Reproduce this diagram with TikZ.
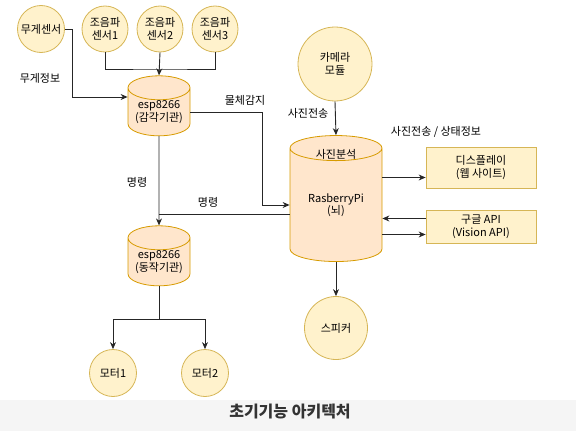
\documentclass[tikz,border=0pt]{standalone}
\usepackage{fontspec}
\setmainfont{Noto Sans CJK KR}
\usetikzlibrary{calc, positioning}
\usetikzlibrary{arrows.meta}
\usetikzlibrary{shapes.geometric}

\definecolor{sensfill}{HTML}{FFF2CC}
\definecolor{sensline}{HTML}{D6B656}
\definecolor{espfill}{HTML}{FFE6CC}
\definecolor{espline}{HTML}{D79B00}
\definecolor{barfill}{HTML}{F5F5F5}
\definecolor{titletext}{HTML}{333333}

\begin{document}
\begin{tikzpicture}[x=1pt,y=-1pt,
  font=\fontsize{11}{12.5}\selectfont,
  part/.style={circle, draw=sensline, fill=sensfill, line width=0.8pt,
    inner sep=0pt, align=center},
  board/.style={cylinder, shape border rotate=90, aspect=0.5,
    draw=espline, fill=espfill, line width=0.8pt, inner sep=0pt,
    minimum width=62pt, minimum height=60pt, align=center},
  outbox/.style={rectangle, draw=sensline, fill=sensfill, line width=0.8pt,
    minimum width=110pt, align=center},
  link/.style={draw=black!85, line width=0.9pt},
  arr/.style={link, -{Stealth[length=7pt, width=6pt]}}]
\def\picw{576}
\def\pich{431}

\useasboundingbox (0,0) rectangle (\picw,\pich);

\fill[barfill] (0,400) rectangle (\picw,\pich);
\node[font=\fontsize{16}{18}\selectfont\bfseries, text=titletext] (title) at (290,412) {초기기능 아키텍처};

\node[part, minimum size=47pt] (wsens) at (41,29) {무게센서};
\node[part, minimum size=46pt] (us1) at (105,29) {조음파\\센서1};
\node[part, minimum size=46pt] (us2) at (160,29) {조음파\\센서2};
\node[part, minimum size=46pt] (us3) at (215,29) {조음파\\센서3};
\node[part, minimum size=74pt] (cam) at (335,64) {카메라\\모듈};
\node[part, minimum size=63pt] (spk) at (336,328) {스피커};
\node[part, minimum size=47pt] (mot1) at (113,373) {모터1};
\node[part, minimum size=47pt] (mot2) at (205,373) {모터2};

\node[board] (espin) at (159,112) {esp8266\\(감각기관)};
\node[board] (espout) at (159,262) {esp8266\\(동작기관)};
\node[board, minimum width=92pt, minimum height=126pt, aspect=0.45] (rpi) at (336,205) {RasberryPi\\(뇌)};
\node (rpitop) at (336,154) {사진분석};

\node[outbox, minimum height=41pt] (disp) at (481,167.5) {디스플레이\\(웹 사이트)};
\node[outbox, minimum height=33pt] (api) at (481,226.5) {구글 API\\(Vision API)};

\coordinate (usjoin) at (160,69);
\draw[link] (us1.south) |- (usjoin) -| (us3.south);
\draw[arr] (us2.south) -- (espin.north);
\draw[arr] (wsens.east) -| ([xshift=-55pt,yshift=15pt]espin.west) -- ([yshift=15pt]espin.west);

\draw[arr] (espin.east) -| ([xshift=-27pt]rpi.west) -- (rpi.west);
\draw[arr] (cam.south) -- (rpi.north);
\draw[arr] (espin.south) -- (espout.north);
\draw[link] ([yshift=-9pt]rpi.west) -- ([yshift=-9pt]rpi.west -| espin.south);

\draw[arr] ([yshift=-10pt]disp.west -| rpi.east) -- ([yshift=-10pt]disp.west);
\draw[arr] ([yshift=8pt]api.west) -- ([yshift=8pt]api.west -| rpi.east);
\draw[arr] ([yshift=-8pt]api.west -| rpi.east) -- ([yshift=-8pt]api.west);
\draw[arr] (rpi.south) -- (spk.north);

\draw[link] (espout.south) -- ++(0,33) coordinate (motjoin);
\draw[arr] (motjoin) -| (mot1.north);
\draw[arr] (motjoin) -| (mot2.north);

\node (lweight) at (40,78) {무게정보};
\node (ldetect) at (245,100) {물체감지};
\node (lphoto) at (308,113) {사진전송};
\node (lstate) at (436,132) {사진전송 / 상태정보};
\node (lcmd1) at (137,182) {명령};
\node (lcmd2) at (208,202) {명령};
\end{tikzpicture}
\end{document}
